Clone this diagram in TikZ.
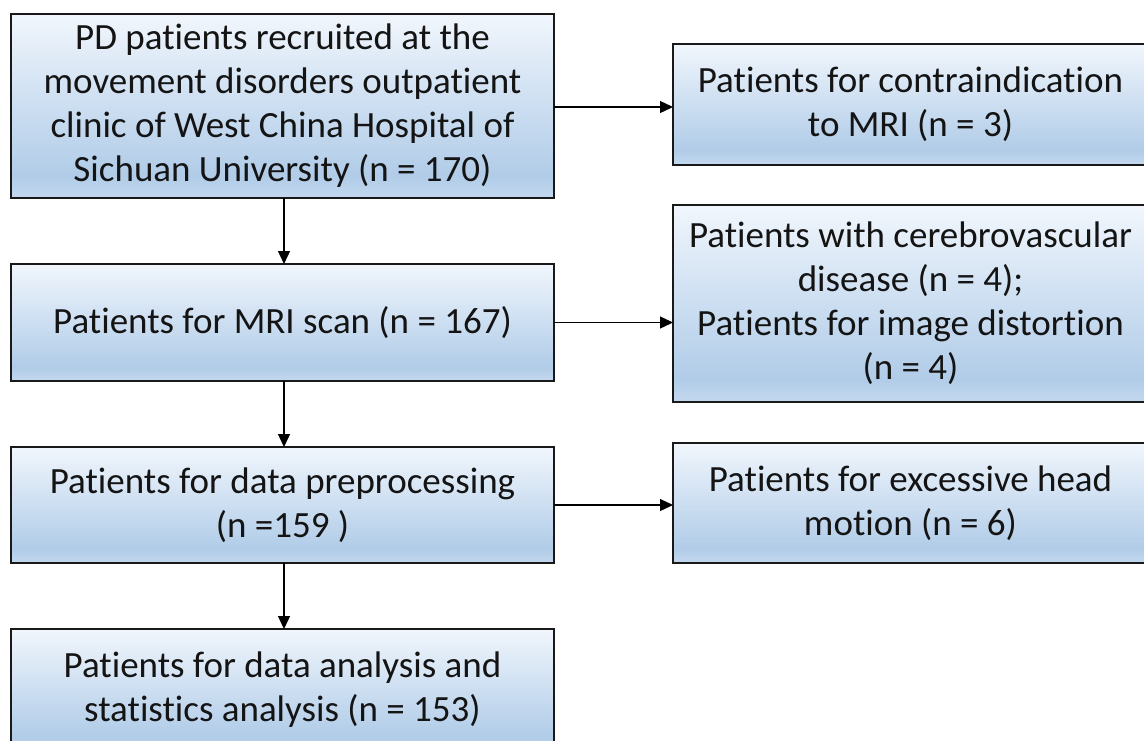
\documentclass[tikz,border=0pt]{standalone}
\usepackage{fontspec}
\setmainfont{Carlito}[RawFeature={-liga;-clig;-dlig}]
\usetikzlibrary{arrows.meta}
\definecolor{bx0}{HTML}{F1F6FC}
\definecolor{bx1}{HTML}{CFE0F2}
\definecolor{bx2}{HTML}{B1CCE8}
\definecolor{bx3}{HTML}{C3D8EE}
\pgfdeclareverticalshading{boxshade}{100bp}{%
  color(0bp)=(bx3); color(25bp)=(bx3); color(31bp)=(bx2); color(52bp)=(bx1); color(75bp)=(bx0); color(100bp)=(bx0)}
\begin{document}
\begin{tikzpicture}[x=1pt,y=-1pt,
  flowbox/.style={draw=black!90, line width=2pt, shading=boxshade, inner sep=0pt, outer sep=0pt,
    align=center, font=\fontsize{37}{44}\selectfont, text=black!92},
  conn/.style={line width=1.3pt, -{Triangle[length=13pt,width=12pt]}}]
\useasboundingbox (0,0) rectangle (1144,740);
\clip (0,0) rectangle (1144,740);
\node[flowbox, minimum width=543pt, minimum height=184pt] (b1) at (282.5,106)
  {PD patients recruited at the\\movement disorders outpatient\\clinic of West China Hospital of\\Sichuan University (n = 170)};
\node[flowbox, minimum width=475pt, minimum height=121pt] (b2) at (910.5,104.5)
  {Patients for contraindication\\to MRI (n = 3)};
\node[flowbox, minimum width=475pt, minimum height=197pt] (b3) at (910.5,303.5)
  {Patients with cerebrovascular\\disease (n = 4);\\Patients for image distortion\\(n = 4)};
\node[flowbox, minimum width=543pt, minimum height=117pt] (b4) at (282.5,322.5)
  {Patients for MRI scan (n = 167)};
\node[flowbox, minimum width=475pt, minimum height=120pt] (b5) at (910.5,503)
  {Patients for excessive head\\motion (n = 6)};
\node[flowbox, minimum width=543pt, minimum height=116pt] (b6) at (282.5,505)
  {Patients for data preprocessing\\(n =159 )};
\node[flowbox, minimum width=543pt, minimum height=122pt] (b7) at (282.5,690)
  {Patients for data analysis and\\statistics analysis (n = 153)};
\draw[conn] ([yshift=-1pt]b1.east) -- ([yshift=-1pt]b1.east -| b2.west);
\draw[conn] (b4.east) -- (b4.east -| b3.west);
\draw[conn] (b6.east) -- (b6.east -| b5.west);
\draw[conn] ([xshift=1.5pt]b1.south) -- ([xshift=1.5pt]b4.north);
\draw[conn] ([xshift=1.5pt]b4.south) -- ([xshift=1.5pt]b6.north);
\draw[conn] ([xshift=1.5pt]b6.south) -- ([xshift=1.5pt]b7.north);
\end{tikzpicture}
\end{document}
